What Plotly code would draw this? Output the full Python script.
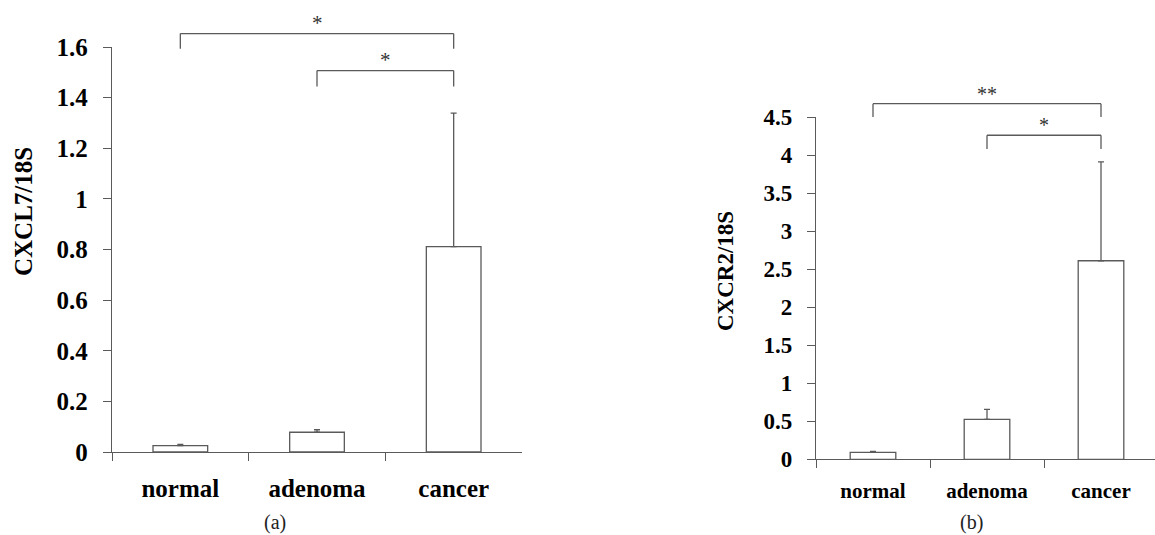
import plotly.graph_objects as go

# ---------------- data ----------------
categories = ["normal", "adenoma", "cancer"]

cxcl7_mean = [0.025, 0.078, 0.811]
cxcl7_err = [0.005, 0.010, 0.528]
cxcl7_tickvals = [0, 0.2, 0.4, 0.6, 0.8, 1.0, 1.2, 1.4, 1.6]
cxcl7_ticktext = ["0", "0.2", "0.4", "0.6", "0.8", "1", "1.2", "1.4", "1.6"]

cxcr2_mean = [0.092, 0.526, 2.61]
cxcr2_err = [0.013, 0.131, 1.30]
cxcr2_tickvals = [0, 0.5, 1.0, 1.5, 2.0, 2.5, 3.0, 3.5, 4.0, 4.5]
cxcr2_ticktext = ["0", "0.5", "1", "1.5", "2", "2.5", "3", "3.5", "4", "4.5"]

# significance brackets: (from category index, to index, bar height, leg bottom, label)
cxcl7_brackets = [(0, 2, 1.653, 1.593, "*"), (1, 2, 1.507, 1.444, "*")]
cxcr2_brackets = [(0, 2, 4.675, 4.50, "**"), (1, 2, 4.26, 4.08, "*")]

# ---------------- styling ----------------
FONT = "Liberation Serif, Times New Roman, serif"
LINE = "#5a5a5a"
W, H = 1155, 535

dom_a_x = [112 / W, 522 / W]
dom_a_y = [(H - 452) / H, (H - 47) / H]
rng_a_x = [-0.5, 2.5]
rng_a_y = [0, 1.6]

dom_b_x = [816 / W, 1.0]
dom_b_y = [(H - 459.3) / H, (H - 117) / H]
rng_b_x = [-0.5, -0.5 + (W - 816) / 114.0]
rng_b_y = [0, 4.5]


def to_paper(v, rng, dom):
    return dom[0] + (v - rng[0]) / (rng[1] - rng[0]) * (dom[1] - dom[0])


fig = go.Figure()

for mean, err, xa, ya in [(cxcl7_mean, cxcl7_err, "x", "y"), (cxcr2_mean, cxcr2_err, "x2", "y2")]:
    fig.add_trace(go.Bar(
        x=categories, y=mean, width=0.4, xaxis=xa, yaxis=ya,
        marker=dict(color="white", line=dict(color=LINE, width=1.3)),
        error_y=dict(type="data", symmetric=False, array=err, arrayminus=[0] * len(err),
                     color=LINE, thickness=1.3, width=3),
        showlegend=False, hoverinfo="skip",
    ))

shapes = []
annotations = []
for brackets, xref, rng_y, dom_y, fsize in [
    (cxcl7_brackets, "x", rng_a_y, dom_a_y, 21),
    (cxcr2_brackets, "x2", rng_b_y, dom_b_y, 20),
]:
    for i0, i1, top, leg, label in brackets:
        yt = to_paper(top, rng_y, dom_y)
        yl = to_paper(leg, rng_y, dom_y)
        line = dict(color=LINE, width=1.3)
        shapes.append(dict(type="line", xref=xref, yref="paper", x0=i0, x1=i1, y0=yt, y1=yt, line=line))
        shapes.append(dict(type="line", xref=xref, yref="paper", x0=i0, x1=i0, y0=yt, y1=yl, line=line))
        shapes.append(dict(type="line", xref=xref, yref="paper", x0=i1, x1=i1, y0=yt, y1=yl, line=line))
        annotations.append(dict(
            xref=xref, yref="paper", x=(i0 + i1) / 2, y=yt, xanchor="center", yanchor="bottom", yshift=-3,
            text=label, showarrow=False, font=dict(family=FONT, size=fsize, color="#333"),
        ))

# y-axis titles and panel labels
annotations.append(dict(xref="paper", yref="paper", x=23 / W, y=(H - 212) / H, text="CXCL7/18S",
                        textangle=-90, showarrow=False, xanchor="center", yanchor="middle",
                        font=dict(family=FONT, size=25, color="black", weight="bold")))
annotations.append(dict(xref="paper", yref="paper", x=725 / W, y=(H - 271) / H, text="CXCR2/18S",
                        textangle=-90, showarrow=False, xanchor="center", yanchor="middle",
                        font=dict(family=FONT, size=23, color="black", weight="bold")))
annotations.append(dict(xref="paper", yref="paper", x=275 / W, y=(H - 522) / H, text="(a)",
                        showarrow=False, xanchor="center", yanchor="middle",
                        font=dict(family=FONT, size=20, color="#222")))
annotations.append(dict(xref="paper", yref="paper", x=971 / W, y=(H - 522) / H, text="(b)",
                        showarrow=False, xanchor="center", yanchor="middle",
                        font=dict(family=FONT, size=20, color="#222")))


def xaxis(dom, rng, anchor, size, standoff):
    return dict(domain=dom, range=rng, anchor=anchor, type="category", tickson="boundaries",
                ticks="outside", ticklen=8, tickwidth=1.3, tickcolor=LINE, automargin=False,
                showline=True, linecolor=LINE, linewidth=1.3, showgrid=False, zeroline=False,
                ticklabelstandoff=standoff,
                tickfont=dict(family=FONT, size=size, color="black", weight="bold"))


def yaxis(dom, rng, anchor, vals, text, size):
    return dict(domain=dom, range=rng, anchor=anchor, tickmode="array", tickvals=vals, ticktext=text,
                ticks="outside", ticklen=8, tickwidth=1.3, tickcolor=LINE, automargin=False,
                showline=True, linecolor=LINE, linewidth=1.3, showgrid=False, zeroline=False,
                ticklabelstandoff=10,
                tickfont=dict(family=FONT, size=size, color="black", weight="bold"))


fig.update_layout(
    width=W, height=H, autosize=False,
    margin=dict(l=0, r=0, t=0, b=0, pad=0, autoexpand=False),
    paper_bgcolor="white", plot_bgcolor="white",
    xaxis=xaxis(dom_a_x, rng_a_x, "y", 25, 14),
    yaxis=yaxis(dom_a_y, rng_a_y, "x", cxcl7_tickvals, cxcl7_ticktext, 25),
    xaxis2=xaxis(dom_b_x, rng_b_x, "y2", 21, 12),
    yaxis2=yaxis(dom_b_y, rng_b_y, "x2", cxcr2_tickvals, cxcr2_ticktext, 23),
    shapes=shapes, annotations=annotations,
)

fig.write_html("out.html", config={"displayModeBar": False},
               post_script="document.body.style.margin='0px';document.body.style.overflow='hidden';")
